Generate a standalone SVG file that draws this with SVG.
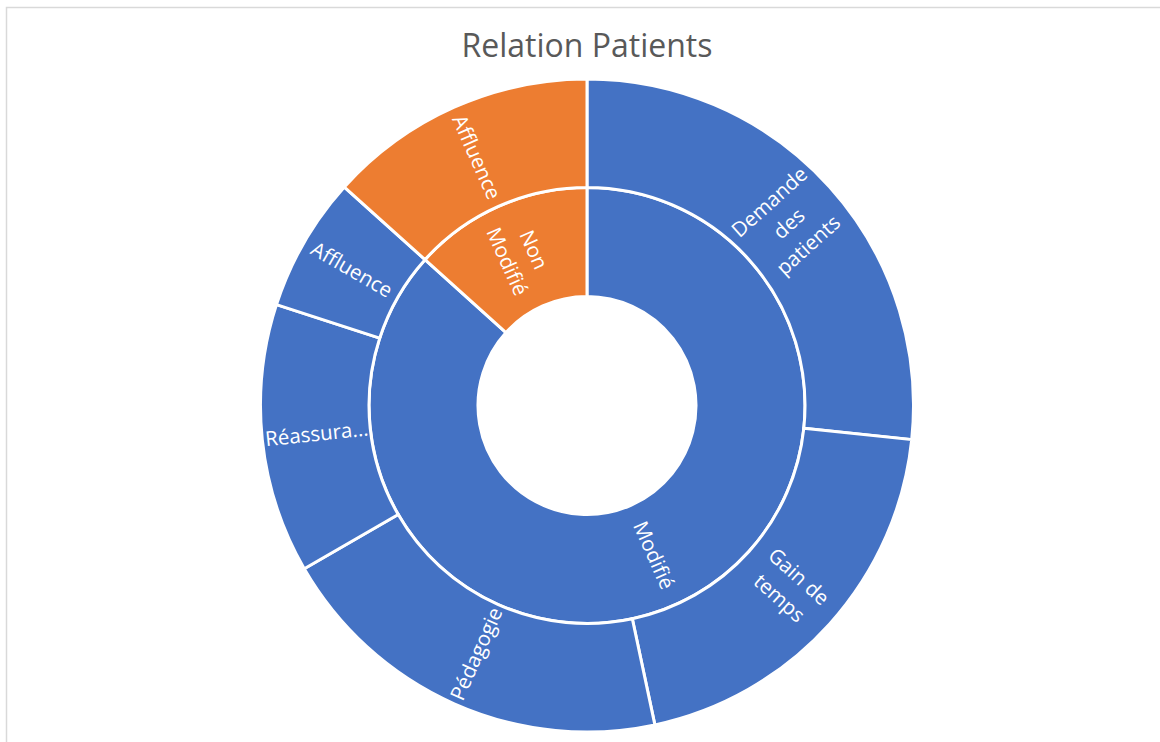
<svg xmlns="http://www.w3.org/2000/svg" width="1160" height="742" viewBox="0 0 1160 742">
<style>
.seg{stroke:#ffffff;stroke-width:3;stroke-linejoin:miter}
.blue{fill:#4472C4}
.orange{fill:#ED7D31}
.lbl{font-family:"Open Sans","Liberation Sans",sans-serif;font-size:20.5px;fill:#ffffff;text-anchor:middle}
.title{font-family:"Open Sans","Liberation Sans",sans-serif;font-size:32px;fill:#595959;text-anchor:middle}
</style>
<rect x="0" y="0" width="1160" height="742" fill="#ffffff"/>
<rect x="6.5" y="7.5" width="1200" height="800" fill="#ffffff" stroke="#d9d9d9" stroke-width="1.5"/>
<text class="title" x="587" y="56.5">Relation Patients</text>
<g id="modifie">
<path class="seg blue" d="M587,296.5 L587,187.5 A218,218 0 1 1 425.0,259.63 L506.0,332.56 A109,109 0 1 0 587,296.5 Z"/>
<text class="lbl" transform="translate(653.7,555.3) rotate(66)" x="0" y="7">Modifié</text>
</g>
<g id="non-modifie">
<path class="seg orange" d="M506.0,332.56 L425.0,259.63 A218,218 0 0 1 587,187.5 L587,296.5 A109,109 0 0 0 506.0,332.56 Z"/>
<text class="lbl" transform="translate(520.3,255.7) rotate(66)"><tspan x="0" y="-7.5">Non</tspan><tspan x="0" y="21.5">Modifié</tspan></text>
</g>
<g id="demande-des-patients">
<path class="seg blue" d="M587,187.5 L587,79 A326.5,326.5 0 0 1 911.71,439.63 L803.81,428.29 A218,218 0 0 0 587,187.5 Z"/>
<text class="lbl" transform="translate(788.95,223.66) rotate(-42)"><tspan x="0" y="-22">Demande</tspan><tspan x="0" y="7">des</tspan><tspan x="0" y="36">patients</tspan></text>
</g>
<g id="gain-de-temps">
<path class="seg blue" d="M803.81,428.29 L911.71,439.63 A326.5,326.5 0 0 1 654.88,724.87 L632.32,618.74 A218,218 0 0 0 803.81,428.29 Z"/>
<text class="lbl" transform="translate(788.95,587.34) rotate(42)"><tspan x="0" y="-7.5">Gain de</tspan><tspan x="0" y="21.5">temps</tspan></text>
</g>
<g id="pedagogie">
<path class="seg blue" d="M632.32,618.74 L654.88,724.87 A326.5,326.5 0 0 1 304.24,568.75 L398.21,514.5 A218,218 0 0 0 632.32,618.74 Z"/>
<text class="lbl" transform="translate(476.5,653.8) rotate(-66)" x="0" y="7">Pédagogie</text>
</g>
<g id="reassurance">
<path class="seg blue" d="M398.21,514.5 L304.24,568.75 A326.5,326.5 0 0 1 276.48,304.6 L379.67,338.13 A218,218 0 0 0 398.21,514.5 Z"/>
<text class="lbl" transform="translate(316.7,433.9) rotate(-6)" x="0" y="7">Réassura...</text>
</g>
<g id="affluence-modifie">
<path class="seg blue" d="M379.67,338.13 L276.48,304.6 A326.5,326.5 0 0 1 344.36,187.03 L425.0,259.63 A218,218 0 0 0 379.67,338.13 Z"/>
<text class="lbl" transform="translate(351.7,269.6) rotate(30)" x="0" y="7">Affluence</text>
</g>
<g id="affluence-non-modifie">
<path class="seg orange" d="M425.0,259.63 L344.36,187.03 A326.5,326.5 0 0 1 587,79 L587,187.5 A218,218 0 0 0 425.0,259.63 Z"/>
<text class="lbl" transform="translate(476.5,157.2) rotate(66)" x="0" y="7">Affluence</text>
</g>
</svg>
